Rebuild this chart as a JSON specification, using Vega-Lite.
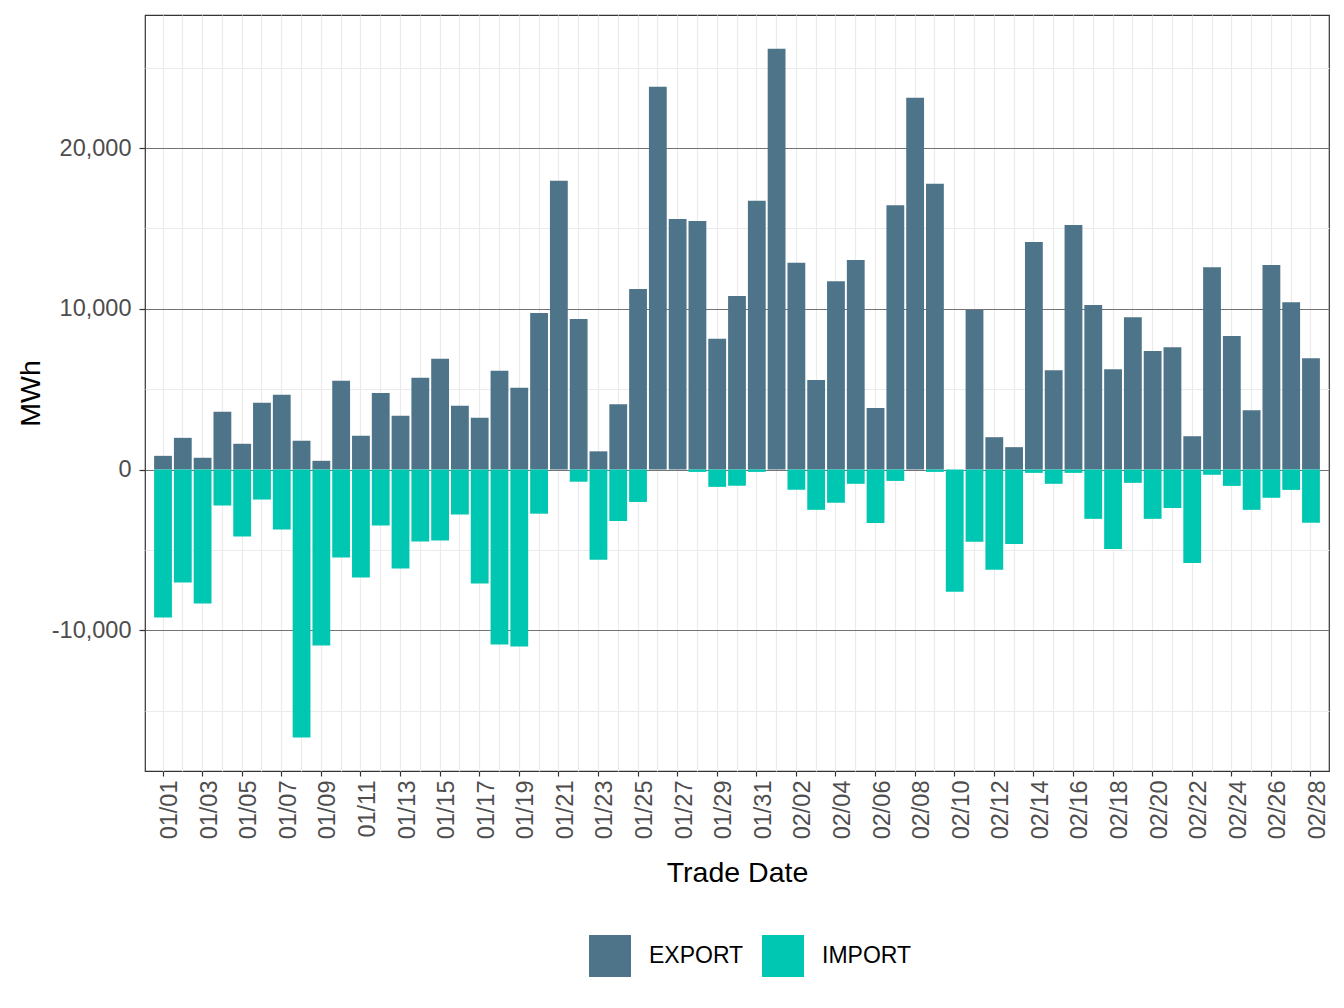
{
  "$schema": "https://vega.github.io/schema/vega-lite/v6.json",
  "width": 1184,
  "height": 756,
  "autosize": {"type": "none"},
  "padding": {"left": 145, "top": 15, "right": 15, "bottom": 237},
  "background": "white",
  "config": {
    "font": "Liberation Sans",
    "view": {"stroke": "#333333", "strokeWidth": 1.2}
  },
  "data": {
    "values": [
      {"date": "01/01", "type": "EXPORT", "value": 850},
      {"date": "01/02", "type": "EXPORT", "value": 1970},
      {"date": "01/03", "type": "EXPORT", "value": 730},
      {"date": "01/04", "type": "EXPORT", "value": 3590},
      {"date": "01/05", "type": "EXPORT", "value": 1600},
      {"date": "01/06", "type": "EXPORT", "value": 4150},
      {"date": "01/07", "type": "EXPORT", "value": 4650},
      {"date": "01/08", "type": "EXPORT", "value": 1790},
      {"date": "01/09", "type": "EXPORT", "value": 540},
      {"date": "01/10", "type": "EXPORT", "value": 5520},
      {"date": "01/11", "type": "EXPORT", "value": 2100},
      {"date": "01/12", "type": "EXPORT", "value": 4760},
      {"date": "01/13", "type": "EXPORT", "value": 3340},
      {"date": "01/14", "type": "EXPORT", "value": 5710},
      {"date": "01/15", "type": "EXPORT", "value": 6890},
      {"date": "01/16", "type": "EXPORT", "value": 3960},
      {"date": "01/17", "type": "EXPORT", "value": 3220},
      {"date": "01/18", "type": "EXPORT", "value": 6140},
      {"date": "01/19", "type": "EXPORT", "value": 5080},
      {"date": "01/20", "type": "EXPORT", "value": 9740},
      {"date": "01/21", "type": "EXPORT", "value": 17960},
      {"date": "01/22", "type": "EXPORT", "value": 9360},
      {"date": "01/23", "type": "EXPORT", "value": 1130},
      {"date": "01/24", "type": "EXPORT", "value": 4060},
      {"date": "01/25", "type": "EXPORT", "value": 11230},
      {"date": "01/26", "type": "EXPORT", "value": 23820},
      {"date": "01/27", "type": "EXPORT", "value": 15590},
      {"date": "01/28", "type": "EXPORT", "value": 15470},
      {"date": "01/29", "type": "EXPORT", "value": 8130},
      {"date": "01/30", "type": "EXPORT", "value": 10790},
      {"date": "01/31", "type": "EXPORT", "value": 16720},
      {"date": "02/01", "type": "EXPORT", "value": 26180},
      {"date": "02/02", "type": "EXPORT", "value": 12860},
      {"date": "02/03", "type": "EXPORT", "value": 5570},
      {"date": "02/04", "type": "EXPORT", "value": 11720},
      {"date": "02/05", "type": "EXPORT", "value": 13030},
      {"date": "02/06", "type": "EXPORT", "value": 3820},
      {"date": "02/07", "type": "EXPORT", "value": 16450},
      {"date": "02/08", "type": "EXPORT", "value": 23130},
      {"date": "02/09", "type": "EXPORT", "value": 17780},
      {"date": "02/10", "type": "EXPORT", "value": 0},
      {"date": "02/11", "type": "EXPORT", "value": 9920},
      {"date": "02/12", "type": "EXPORT", "value": 2010},
      {"date": "02/13", "type": "EXPORT", "value": 1390},
      {"date": "02/14", "type": "EXPORT", "value": 14150},
      {"date": "02/15", "type": "EXPORT", "value": 6180},
      {"date": "02/16", "type": "EXPORT", "value": 15210},
      {"date": "02/17", "type": "EXPORT", "value": 10230},
      {"date": "02/18", "type": "EXPORT", "value": 6240},
      {"date": "02/19", "type": "EXPORT", "value": 9480},
      {"date": "02/20", "type": "EXPORT", "value": 7370},
      {"date": "02/21", "type": "EXPORT", "value": 7610},
      {"date": "02/22", "type": "EXPORT", "value": 2070},
      {"date": "02/23", "type": "EXPORT", "value": 12590},
      {"date": "02/24", "type": "EXPORT", "value": 8300},
      {"date": "02/25", "type": "EXPORT", "value": 3690},
      {"date": "02/26", "type": "EXPORT", "value": 12720},
      {"date": "02/27", "type": "EXPORT", "value": 10410},
      {"date": "02/28", "type": "EXPORT", "value": 6930},
      {"date": "01/01", "type": "IMPORT", "value": -9210},
      {"date": "01/02", "type": "IMPORT", "value": -7030},
      {"date": "01/03", "type": "IMPORT", "value": -8340},
      {"date": "01/04", "type": "IMPORT", "value": -2240},
      {"date": "01/05", "type": "IMPORT", "value": -4170},
      {"date": "01/06", "type": "IMPORT", "value": -1870},
      {"date": "01/07", "type": "IMPORT", "value": -3730},
      {"date": "01/08", "type": "IMPORT", "value": -16680},
      {"date": "01/09", "type": "IMPORT", "value": -10950},
      {"date": "01/10", "type": "IMPORT", "value": -5480},
      {"date": "01/11", "type": "IMPORT", "value": -6720},
      {"date": "01/12", "type": "IMPORT", "value": -3480},
      {"date": "01/13", "type": "IMPORT", "value": -6160},
      {"date": "01/14", "type": "IMPORT", "value": -4480},
      {"date": "01/15", "type": "IMPORT", "value": -4420},
      {"date": "01/16", "type": "IMPORT", "value": -2800},
      {"date": "01/17", "type": "IMPORT", "value": -7090},
      {"date": "01/18", "type": "IMPORT", "value": -10890},
      {"date": "01/19", "type": "IMPORT", "value": -11010},
      {"date": "01/20", "type": "IMPORT", "value": -2750},
      {"date": "01/21", "type": "IMPORT", "value": 0},
      {"date": "01/22", "type": "IMPORT", "value": -760},
      {"date": "01/23", "type": "IMPORT", "value": -5620},
      {"date": "01/24", "type": "IMPORT", "value": -3200},
      {"date": "01/25", "type": "IMPORT", "value": -2020},
      {"date": "01/26", "type": "IMPORT", "value": 0},
      {"date": "01/27", "type": "IMPORT", "value": 0},
      {"date": "01/28", "type": "IMPORT", "value": -150},
      {"date": "01/29", "type": "IMPORT", "value": -1080},
      {"date": "01/30", "type": "IMPORT", "value": -1010},
      {"date": "01/31", "type": "IMPORT", "value": -150},
      {"date": "02/01", "type": "IMPORT", "value": 0},
      {"date": "02/02", "type": "IMPORT", "value": -1260},
      {"date": "02/03", "type": "IMPORT", "value": -2510},
      {"date": "02/04", "type": "IMPORT", "value": -2070},
      {"date": "02/05", "type": "IMPORT", "value": -890},
      {"date": "02/06", "type": "IMPORT", "value": -3330},
      {"date": "02/07", "type": "IMPORT", "value": -710},
      {"date": "02/08", "type": "IMPORT", "value": 0},
      {"date": "02/09", "type": "IMPORT", "value": -150},
      {"date": "02/10", "type": "IMPORT", "value": -7610},
      {"date": "02/11", "type": "IMPORT", "value": -4500},
      {"date": "02/12", "type": "IMPORT", "value": -6240},
      {"date": "02/13", "type": "IMPORT", "value": -4630},
      {"date": "02/14", "type": "IMPORT", "value": -210},
      {"date": "02/15", "type": "IMPORT", "value": -890},
      {"date": "02/16", "type": "IMPORT", "value": -210},
      {"date": "02/17", "type": "IMPORT", "value": -3070},
      {"date": "02/18", "type": "IMPORT", "value": -4940},
      {"date": "02/19", "type": "IMPORT", "value": -830},
      {"date": "02/20", "type": "IMPORT", "value": -3070},
      {"date": "02/21", "type": "IMPORT", "value": -2390},
      {"date": "02/22", "type": "IMPORT", "value": -5810},
      {"date": "02/23", "type": "IMPORT", "value": -330},
      {"date": "02/24", "type": "IMPORT", "value": -1020},
      {"date": "02/25", "type": "IMPORT", "value": -2510},
      {"date": "02/26", "type": "IMPORT", "value": -1760},
      {"date": "02/27", "type": "IMPORT", "value": -1270},
      {"date": "02/28", "type": "IMPORT", "value": -3320}
    ]
  },
  "mark": {"type": "bar"},
  "encoding": {
    "x": {
      "field": "date",
      "type": "ordinal",
      "scale": {"paddingInner": 0.1, "paddingOuter": 0.46},
      "axis": {
        "title": "Trade Date",
        "titleFontSize": 28.5,
        "titleFontWeight": "normal",
        "titleColor": "#000000",
        "titlePadding": 20,
        "domain": false,
        "grid": true,
        "gridColor": "#EBEBEB",
        "gridWidth": 1.2,
        "tickColor": "#333333",
        "tickSize": 5,
        "tickWidth": 1.2,
        "tickOpacity": {"condition": {"test": "((toNumber(substring(datum.value,0,2))-1)*31+toNumber(substring(datum.value,3,5))-1)%2===0", "value": 1}, "value": 0},
        "labelExpr": "((toNumber(substring(datum.value,0,2))-1)*31+toNumber(substring(datum.value,3,5))-1)%2===0 ? datum.value : ''",
        "labelAngle": 270,
        "labelAlign": "right",
        "labelBaseline": "middle",
        "labelOffset": 7,
        "labelFontSize": 23.5,
        "labelColor": "#4D4D4D",
        "labelPadding": 4,
        "labelOverlap": false
      }
    },
    "y": {
      "field": "value",
      "type": "quantitative",
      "stack": null,
      "scale": {"domain": [-18760, 28280], "nice": false, "zero": false},
      "axis": {
        "title": "MWh",
        "titleFontSize": 28.5,
        "titleFontWeight": "normal",
        "titleColor": "#000000",
        "titlePadding": 6,
        "domain": false,
        "values": [-15000, -10000, -5000, 0, 5000, 10000, 15000, 20000, 25000],
        "grid": true,
        "gridColor": {"condition": {"test": "datum.value % 10000 === 0", "value": "#737373"}, "value": "#EBEBEB"},
        "gridWidth": 1.2,
        "tickColor": "#333333",
        "tickSize": 6,
        "tickWidth": 1.2,
        "tickOpacity": {"condition": {"test": "datum.value % 10000 === 0", "value": 1}, "value": 0},
        "labelExpr": "datum.value % 10000 === 0 ? replace(format(datum.value, ','), '\u2212', '-') : ''",
        "labelFontSize": 23.5,
        "labelColor": "#4D4D4D",
        "labelPadding": 8
      }
    },
    "color": {
      "field": "type",
      "type": "nominal",
      "scale": {"domain": ["EXPORT", "IMPORT"], "range": ["#4E7489", "#00C7B1"]},
      "legend": {
        "title": null,
        "orient": "none",
        "direction": "horizontal",
        "legendX": 444,
        "legendY": 920,
        "padding": 0,
        "symbolType": "square",
        "symbolSize": 1764,
        "symbolStrokeWidth": 0,
        "symbolOpacity": 1,
        "labelFontSize": 23,
        "labelColor": "#000000",
        "labelOffset": 18,
        "columnPadding": 18
      }
    }
  }
}
